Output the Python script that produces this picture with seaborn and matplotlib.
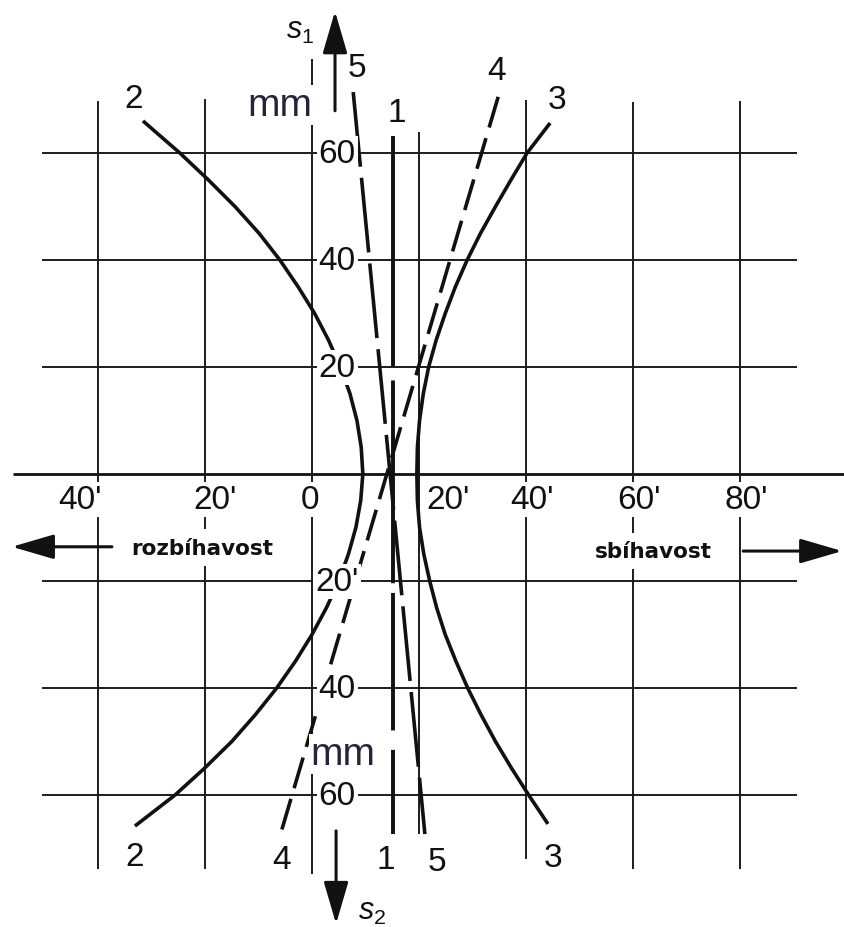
import matplotlib
matplotlib.use("Agg")
import matplotlib.pyplot as plt
import pandas as pd
import seaborn as sns

# ---- grid / axis values ----
x_ticks = [-40, -20, 0, 20, 40, 60, 80]          # angle in minutes of arc
x_tick_labels = ["40'", "20'", "0", "20'", "40'", "60'", "80'"]
y_ticks = [60, 40, 20, -20, -40, -60]             # shift s in mm
y_tick_labels = ["60", "40", "20", "20'", "40", "60"]

# ---- characteristic curves (x: minutes of arc, y: mm) ----
c2_x = [-31.6, -24.7, -19.4, -14.4, -9.9, -6.0, -2.6, 0.5, 3.1, 5.3, 7.1, 8.4, 9.2, 9.5,
        9.1, 8.2, 6.8, 5.0, 2.7, 0.0, -3.1, -6.6, -10.6, -15.0, -20.1, -25.6, -33.1]
c2_y = [66.0, 60.0, 55.0, 50.0, 45.0, 40.0, 35.0, 30.0, 25.0, 20.0, 15.0, 10.0, 5.0, 0.0,
        -5.0, -10.0, -15.0, -20.0, -25.0, -30.0, -35.0, -40.0, -45.0, -50.0, -55.0, -60.0, -65.8]

c3_x = [44.5, 40.2, 37.2, 34.3, 31.5, 29.0, 26.8, 24.9, 23.2, 21.8, 20.8, 20.1, 19.7, 19.6,
        19.7, 20.1, 20.9, 22.0, 23.3, 24.9, 26.9, 29.1, 31.6, 34.3, 37.3, 40.5, 44.1]
c3_y = [65.6, 60.0, 55.0, 50.0, 45.0, 40.0, 35.0, 30.0, 25.0, 20.0, 15.0, 10.0, 5.0, 0.0,
        -5.0, -10.0, -15.0, -20.0, -25.0, -30.0, -35.0, -40.0, -45.0, -50.0, -55.0, -60.0, -65.4]

l1_x = [15.1, 15.1]
l1_y = [63.2, -67.3]
l4_x = [34.8, -6.0]
l4_y = [70.5, -67.7]
l5_x = [7.7, 21.1]
l5_y = [71.4, -67.3]

curve_names = ["1", "2", "3", "4", "5"]

sns.set_theme(style="white")
plt.rcParams["font.family"] = ["Liberation Sans", "DejaVu Sans"]
plt.rcParams["lines.scale_dashes"] = False
plt.rcParams["mathtext.fontset"] = "custom"
plt.rcParams["mathtext.it"] = "Liberation Sans:italic"
plt.rcParams["mathtext.rm"] = "Liberation Sans"

fig = plt.figure(figsize=(8.44, 9.28), dpi=100)
ax = fig.add_axes([0, 0, 1, 1])

ink = "#111111"
grid_c = "#1c1c1c"

# ---- grid ----
ax.hlines(y_ticks, -50.5, 90.7, color=grid_c, lw=1.4, zorder=1)
ax.hlines(0, -55.9, 99.6, color=ink, lw=2.0, zorder=1)
v_top = [69.7, 70.1, 77.6, 63.9, 69.9, 69.5, 69.7]
v_bot = [-73.8, -73.8, -74.8, -67.3, -72.0, -73.8, -73.8]
for xv, top, bot in zip(x_ticks, v_top, v_bot):
    ax.vlines(xv, bot, top, color=grid_c, lw=1.4, zorder=1)

# ---- curves ----
curves = {
    "2": (c2_x, c2_y, "-", 2.6),
    "3": (c3_x, c3_y, "-", 2.6),
    "1": (l1_x, l1_y, (0, (166, 10, 146, 7, 99, 14, 200)), 2.8),
    "4": (l4_x, l4_y, (0, (23, 8)), 2.6),
    "5": (l5_x, l5_y, (0, (54, 8)), 2.6),
}
for name in curve_names:
    xs, ys, ls, lw = curves[name]
    df = pd.DataFrame({"x": xs, "y": ys})
    sns.lineplot(data=df, x="x", y="y", sort=False, estimator=None,
                 color=ink, lw=lw, linestyle=ls, ax=ax, zorder=2,
                 solid_capstyle="butt", dash_capstyle="butt",
                 solid_joinstyle="round")
ax.set_xlim(-58.32, 99.44)
ax.set_ylim(-84.67, 88.79)
ax.axis("off")

# ---- curve number labels at both ends ----
end_offsets = {  # (top dx, dy), (bottom dx, dy) in points
    "1": ((3, 17), (-5, -18)),
    "2": ((-7, 16), (0, -22)),
    "3": ((5, 17), (4, -24)),
    "4": ((-1, 19), (1, -17)),
    "5": ((3, 18), (9, -20)),
}
for name in curve_names:
    xs, ys, _, _ = curves[name]
    (tdx, tdy), (bdx, bdy) = end_offsets[name]
    ax.annotate(name, (xs[0], ys[0]), xytext=(tdx, tdy), textcoords="offset points",
                ha="center", va="center", fontsize=24, color=ink, zorder=4)
    ax.annotate(name, (xs[-1], ys[-1]), xytext=(bdx, bdy), textcoords="offset points",
                ha="center", va="center", fontsize=24, color=ink, zorder=4)

box = dict(facecolor="white", edgecolor="none", pad=1.5)

# ---- tick labels ----
x_shift = [-3.4, 1.9, -0.4, 5.4, 1.1, 1.1, 1.1]
for xv, lab, sh in zip(x_ticks, x_tick_labels, x_shift):
    ax.text(xv + sh, -4.7, lab, ha="center", va="center", fontsize=24,
            color=ink, bbox=box, zorder=3)
for yv, lab in zip(y_ticks, y_tick_labels):
    ax.text(4.7, yv, lab, ha="center", va="center", fontsize=24,
            color=ink, bbox=box, zorder=3)

mm_c = "#24243a"
ax.text(-6.0, 69.0, "mm", ha="center", va="center", fontsize=28, color=mm_c,
        bbox=box, zorder=3)
ax.text(5.8, -52.3, "mm", ha="center", va="center", fontsize=28, color=mm_c,
        bbox=box, zorder=3)

# ---- axis arrows ----
def arrow(tail, tip):
    ax.annotate("", xy=tip, xytext=tail,
                arrowprops=dict(arrowstyle="-|>,head_length=1.3,head_width=0.38",
                                mutation_scale=20, lw=2.2, color=ink,
                                shrinkA=0, shrinkB=0), zorder=4)

arrow((4.3, 67.9), (4.3, 86.5))
arrow((4.5, -66.7), (4.5, -84.1))
arrow((-37.4, -13.6), (-56.1, -13.6))
arrow((80.6, -14.4), (99.1, -14.4))

ax.text(-2.2, 83.0, r"$s_1$", ha="center", va="center", fontsize=22, color=ink, zorder=4)
ax.text(11.2, -81.7, r"$s_2$", ha="center", va="center", fontsize=22, color=ink, zorder=4)

ax.text(-20.6, -13.8, "rozbíhavost", ha="center", va="center", fontsize=15.5,
        fontweight="bold", family="DejaVu Sans", color=ink,
        bbox=dict(facecolor="white", edgecolor="none", pad=6), zorder=3)
ax.text(63.9, -14.4, "sbíhavost", ha="center", va="center", fontsize=15.5,
        fontweight="bold", family="DejaVu Sans", color=ink,
        bbox=dict(facecolor="white", edgecolor="none", pad=6), zorder=3)

fig.savefig("out.png", dpi=100, facecolor="white")
